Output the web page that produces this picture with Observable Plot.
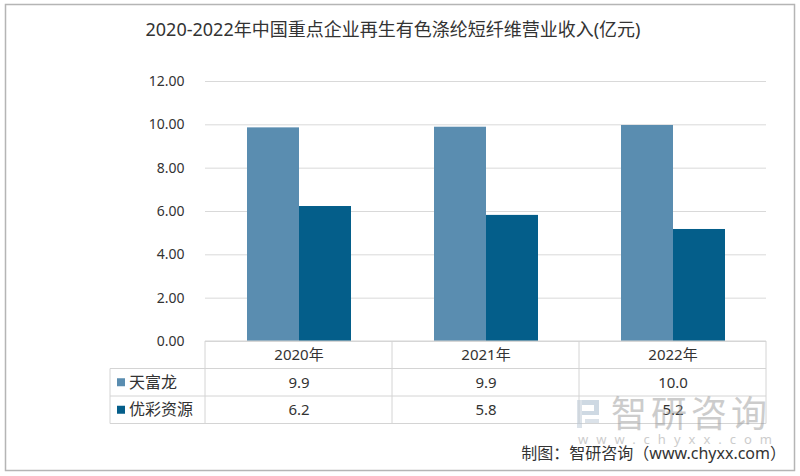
<!DOCTYPE html>
<html>
<head>
<meta charset="utf-8">
<script src="https://cdn.jsdelivr.net/npm/d3@7"></script>
<script src="https://cdn.jsdelivr.net/npm/@observablehq/plot@0.6"></script>
<style>
  html, body { margin: 0; padding: 0; background: #fff; }
</style>
</head>
<body>
<div id="chart"></div>
<script>
const titleText = "2020-2022年中国重点企业再生有色涤纶短纤维营业收入(亿元)";
const years = ["2020年", "2021年", "2022年"];
const series = ["天富龙", "优彩资源"];
const tianfulong = [9.86, 9.89, 9.97];
const youcai = [6.23, 5.82, 5.17];
const yTicks = [0, 2, 4, 6, 8, 10, 12];
const seriesColors = ["#5a8db0", "#045e8a"];
const captionText = "制图：智研咨询（www.chyxx.com）";

const data = years.flatMap((yr, i) => [
  {year: yr, series: series[0], value: tianfulong[i]},
  {year: yr, series: series[1], value: youcai[i]}
]);

const rowH = 27.5;
const font = "'Noto Sans', 'Noto Sans CJK SC', sans-serif";

const plot = Plot.plot({
  width: 800,
  height: 476,
  marginTop: 81,
  marginBottom: 135,
  marginLeft: 204,
  marginRight: 34,
  style: {fontFamily: font, background: "#fff", color: "#333"},
  fx: {domain: years, padding: 0, axis: null},
  x: {domain: series, paddingInner: 0, paddingOuter: 0.77, axis: null},
  y: {domain: [0, 12], axis: null},
  color: {domain: series, range: seriesColors},
  marks: [
    Plot.gridY(yTicks, {stroke: "#d9d9d9", strokeOpacity: 1}),
    Plot.axisY(yTicks, {tickSize: 0, tickPadding: 21, tickFormat: d => d.toFixed(2), fontSize: 14, fill: "#333", label: null}),
    Plot.barY(data, {fx: "year", x: "series", y: "value", fill: "series"}),
    Plot.text(years, {fx: d => d, text: d => d, frameAnchor: "bottom", lineAnchor: "middle", dy: rowH * 0.5, fontSize: 15, fill: "#333"}),
    Plot.text(data.filter(d => d.series === series[0]), {fx: "year", text: d => d.value.toFixed(1), frameAnchor: "bottom", lineAnchor: "middle", dy: rowH * 1.5, fontSize: 15, fill: "#333"}),
    Plot.text(data.filter(d => d.series === series[1]), {fx: "year", text: d => d.value.toFixed(1), frameAnchor: "bottom", lineAnchor: "middle", dy: rowH * 2.5, fontSize: 15, fill: "#333"})
  ]
});

document.getElementById("chart").appendChild(plot);

// Decorations: table grid, legend cells, title, watermark, caption
const svg = d3.select(plot);
const fx = plot.scale("fx");
const yS = plot.scale("y");
const y0 = yS.apply(0);
const colLeft = fx.apply(years[0]);
const colRight = fx.apply(years[years.length - 1]) + fx.bandwidth;
const tableLeft = 110;
const g = svg.append("g").attr("font-family", font).attr("text-anchor", "start");

// outer frame
g.append("rect").attr("x", 5.5).attr("y", 4.5).attr("width", 789).attr("height", 466)
  .attr("fill", "none").attr("stroke", "#b5b5b5").attr("stroke-width", 1.5);

// title
g.append("text").attr("x", 393).attr("y", 36).attr("text-anchor", "middle")
  .attr("font-size", 18).attr("fill", "#333").text(titleText);

// table lines
const lineColor = "#d4d4d4";
const hl = (x1, x2, y) => g.append("line").attr("x1", x1).attr("x2", x2).attr("y1", y).attr("y2", y).attr("stroke", lineColor);
const vl = (x, y1, y2) => g.append("line").attr("x1", x).attr("x2", x).attr("y1", y1).attr("y2", y2).attr("stroke", lineColor);
hl(colLeft, colRight, y0);
hl(tableLeft, colRight, y0 + rowH);
hl(tableLeft, colRight, y0 + rowH * 2);
hl(tableLeft, colRight, y0 + rowH * 3);
years.forEach(yr => vl(fx.apply(yr), y0, y0 + rowH * 3));
vl(colRight, y0, y0 + rowH * 3);
vl(tableLeft, y0 + rowH, y0 + rowH * 3);

// legend labels in the table
series.forEach((s, i) => {
  const cy = y0 + rowH * (1.5 + i);
  g.append("rect").attr("x", 117).attr("y", cy - 4).attr("width", 8).attr("height", 8).attr("fill", seriesColors[i]);
  g.append("text").attr("x", 129).attr("y", cy).attr("dy", "0.35em").attr("text-anchor", "start")
    .attr("font-size", 16).attr("fill", "#333").text(s);
});

// watermark
const wm = g.append("g").attr("opacity", 0.5);
wm.append("rect").attr("x", 577).attr("y", 400).attr("width", 22).attr("height", 5).attr("fill", "#9fb4c8");
wm.append("rect").attr("x", 594).attr("y", 400).attr("width", 5).attr("height", 14).attr("fill", "#9fb4c8");
wm.append("rect").attr("x", 577).attr("y", 411).attr("width", 22).attr("height", 4).attr("fill", "#9fb4c8");
wm.append("rect").attr("x", 577).attr("y", 400).attr("width", 5).attr("height", 28).attr("fill", "#b8c6d4");
wm.append("rect").attr("x", 585).attr("y", 419).attr("width", 14).attr("height", 4).attr("fill", "#b8c6d4");
wm.append("text").attr("x", 611).attr("y", 427).attr("text-anchor", "start").attr("font-size", 36)
  .attr("fill", "#9a9a9a").attr("letter-spacing", 4).text("智研咨询");
wm.append("text").attr("x", 578).attr("y", 444).attr("text-anchor", "start").attr("font-size", 13)
  .attr("fill", "#9a9a9a").attr("letter-spacing", 8).text("www.chyxx.com");

// caption
g.append("text").attr("x", 786).attr("y", 459).attr("text-anchor", "end")
  .attr("font-size", 16).attr("fill", "#333").text(captionText);
</script>
</body>
</html>
